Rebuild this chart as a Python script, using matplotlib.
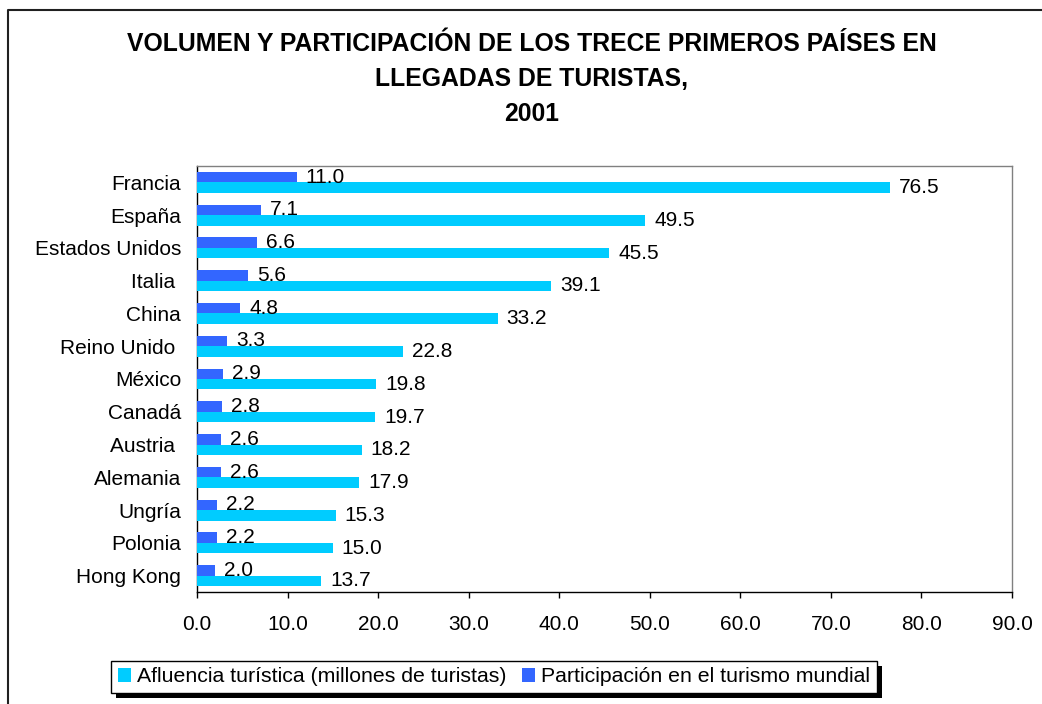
import matplotlib
matplotlib.use("Agg")
import matplotlib.pyplot as plt
import numpy as np
from matplotlib.lines import Line2D
from matplotlib.patches import Patch, Rectangle
from matplotlib.ticker import FormatStrFormatter, MultipleLocator
from matplotlib.transforms import IdentityTransform

plt.rcParams['font.family'] = ['Liberation Sans', 'DejaVu Sans']

# data
countries = ['Francia', 'España', 'Estados Unidos', 'Italia ', 'China', 'Reino Unido ',
             'México', 'Canadá', 'Austria ', 'Alemania', 'Ungría', 'Polonia', 'Hong Kong']
afluencia = [76.5, 49.5, 45.5, 39.1, 33.2, 22.8, 19.8, 19.7, 18.2, 17.9, 15.3, 15.0, 13.7]
participacion = [11.0, 7.1, 6.6, 5.6, 4.8, 3.3, 2.9, 2.8, 2.6, 2.6, 2.2, 2.2, 2.0]

title_lines = ['VOLUMEN Y PARTICIPACIÓN DE LOS TRECE PRIMEROS PAÍSES EN',
               'LLEGADAS DE TURISTAS,', '2001']
serie_afl = 'Afluencia turística (millones de turistas)'
serie_par = 'Participación en el turismo mundial'

CYAN = '#00CCFF'
BLUE = '#3366FF'
W, H = 1042, 704

fig = plt.figure(figsize=(W / 100, H / 100), dpi=100)
ax = fig.add_axes([197 / W, 1 - 592 / H, (1012 - 197) / W, (592 - 166) / H])

y = np.arange(len(countries))
h = 0.32
ax.barh(y - h / 2, participacion, height=h, color=BLUE, zorder=3)
ax.barh(y + h / 2, afluencia, height=h, color=CYAN, zorder=3)

# value labels just past the end of each bar
for yi, v in zip(y, participacion):
    ax.annotate('%.1f' % v, (v, yi - h / 2), xytext=(6.5, 0), textcoords='offset points',
                va='center', ha='left', fontsize=15)
for yi, v in zip(y, afluencia):
    ax.annotate('%.1f' % v, (v, yi + h / 2), xytext=(6.5, 0), textcoords='offset points',
                va='center', ha='left', fontsize=15)

ax.set_xlim(0, 90)
ax.set_ylim(len(countries) - 0.5, -0.5)
ax.xaxis.set_major_locator(MultipleLocator(10))
ax.xaxis.set_major_formatter(FormatStrFormatter('%.1f'))
ax.set_yticks(y)
ax.set_yticklabels(countries)
ax.tick_params(axis='x', direction='out', length=4.3, width=1, labelsize=15, pad=12)
ax.tick_params(axis='y', length=0, labelsize=15, pad=11.5)
for s in ['left', 'bottom']:
    ax.spines[s].set_color('black')
    ax.spines[s].set_linewidth(1)
for s in ['top', 'right']:
    ax.spines[s].set_color('#808080')
    ax.spines[s].set_linewidth(1)

# title
for i, line in enumerate(title_lines):
    fig.text(532 / W, 1 - (44 + 35 * i) / H, line, ha='center', va='center',
             fontsize=17.8, fontweight='bold')

# outer border (only top and left are visible)
fig.add_artist(Line2D([7.5 / W, 7.5 / W, 1.0], [0.0, 1 - 9.5 / H, 1 - 9.5 / H],
                      transform=fig.transFigure, color='#202020', linewidth=1.5))

handles = [Patch(facecolor=CYAN, label=serie_afl), Patch(facecolor=BLUE, label=serie_par)]
leg = fig.legend(handles=handles, loc='center', bbox_to_anchor=(494 / W, 1 - 677 / H),
                 ncol=2, fontsize=15.3, frameon=True, fancybox=False, framealpha=1,
                 edgecolor='black', borderpad=0.3, handlelength=0.62, handleheight=0.62,
                 handletextpad=0.3, columnspacing=0.7, borderaxespad=0)
leg.get_frame().set_linewidth(1)
leg.set_zorder(5)

# solid black drop shadow under the legend box
fig.canvas.draw()
bb = leg.get_frame().get_window_extent(fig.canvas.get_renderer())
fig.add_artist(Rectangle((bb.x0 + 5, bb.y0 - 5), bb.width, bb.height, facecolor='black',
                         edgecolor='none', transform=IdentityTransform(), zorder=4))

fig.savefig('out.png', dpi=100)
